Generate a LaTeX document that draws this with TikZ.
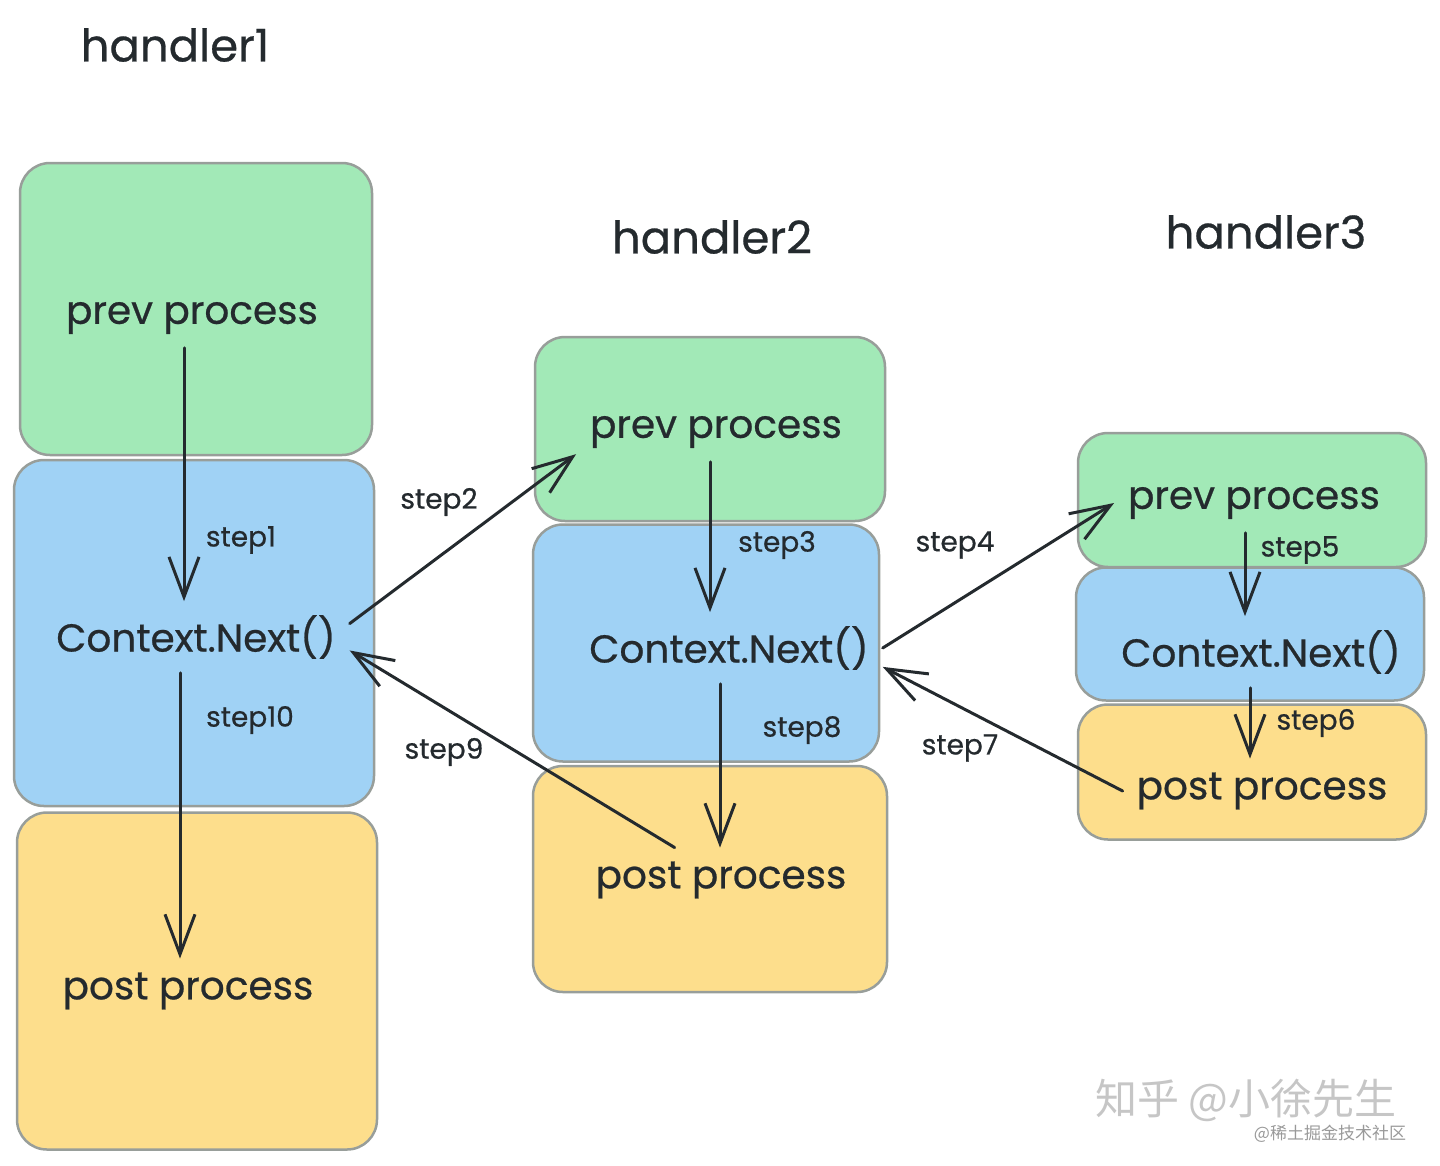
\documentclass[tikz,border=0pt]{standalone}
\usepackage{fontspec}
\setmainfont{Poppins}[FakeBold=0.6]
\newfontfamily\cjkfont{Noto Sans CJK SC}
\usetikzlibrary{arrows.meta}
\definecolor{prevgreen}{RGB}{162,233,183}
\definecolor{nextblue}{RGB}{160,210,245}
\definecolor{postyellow}{RGB}{253,222,140}
\definecolor{edgegray}{RGB}{152,158,154}
\definecolor{ink}{RGB}{36,42,46}
\tikzset{
  box/.style={draw=edgegray,line width=2.5pt,rounded corners=30pt,inner sep=0pt},
  txt/.style={text=ink,font=\fontsize{39}{43}\selectfont,inner sep=4pt,outer sep=10pt},
  title/.style={text=ink,font=\fontsize{45}{49}\selectfont},
  steptxt/.style={text=ink,font=\fontsize{28}{32}\selectfont},
  arr/.style={draw=ink,line width=3pt,line cap=round,line join=round,
    -{Straight Barb[length=40pt,width=30pt,line width=3pt]}}
}
\begin{document}
\begin{tikzpicture}[x=1pt,y=-1pt]
\useasboundingbox (0,0) rectangle (1440,1165);
%\draw[step=100,gray,very thin] (0,0) grid (1440,1165);

% handler1
\node[title] (t1) at (175,45) {handler1};
\node[box,fill=prevgreen,minimum width=352pt,minimum height=292pt] (b1prev) at (196,309) {};
\node[box,fill=nextblue,minimum width=360pt,minimum height=346pt] (b1ctx) at (194,633) {};
\node[box,fill=postyellow,minimum width=360pt,minimum height=337pt] (b1post) at (197,981) {};
\node[txt] (h1prev) at (192,318) {prev process};
\node[txt] (h1ctx) at (196,637) {Context.Next()};
\node[txt] (h1post) at (188,991) {post process};

% handler2
\node[title] (t2) at (712,237) {handler2};
\node[box,fill=prevgreen,minimum width=350pt,minimum height=184pt] (b2prev) at (710,429) {};
\node[box,fill=nextblue,minimum width=346pt,minimum height=237pt] (b2ctx) at (706,643) {};
\node[box,fill=postyellow,minimum width=354pt,minimum height=226pt] (b2post) at (710,879) {};
\node[txt] (h2prev) at (716,432) {prev process};
\node[txt] (h2ctx) at (729,648) {Context.Next()};
\node[txt] (h2post) at (721,880) {post process};

% handler3
\node[title] (t3) at (1266,232) {handler3};
\node[box,fill=prevgreen,minimum width=348pt,minimum height=134pt] (b3prev) at (1252,500) {};
\node[box,fill=nextblue,minimum width=348pt,minimum height=133pt] (b3ctx) at (1250,634) {};
\node[box,fill=postyellow,minimum width=348pt,minimum height=135pt] (b3post) at (1252,772) {};
\node[txt] (h3prev) at (1254,503) {prev process};
\node[txt] (h3ctx) at (1261,652) {Context.Next()};
\node[txt] (h3post) at (1262,791) {post process};

% steps
\draw[arr] ([xshift=-8pt]h1prev.south) -- ([xshift=-8pt]h1prev.south |- h1ctx.north);
\draw[arr] ([xshift=-16pt]h1ctx.south) -- ([xshift=-16pt]h1ctx.south |- h1post.north);
\draw[arr] (h1ctx.5) -- (h2prev.189);
\draw[arr] ([xshift=-6pt]h2prev.south) -- ([xshift=-6pt]h2prev.south |- h2ctx.north);
\draw[arr] (h2ctx.east) -- (h3prev.west);
\draw[arr] ([xshift=-9pt]h3prev.south) -- ([xshift=-9pt]h3prev.south |- h3ctx.north);
\draw[arr] ([xshift=-11pt]h3ctx.south) -- ([xshift=-11pt]h3ctx.south |- h3post.north);
\draw[arr] (h3post.west) -- (h2ctx.-7);
\draw[arr] ([xshift=-9pt]h2ctx.south) -- ([xshift=-9pt]h2ctx.south |- h2post.north);
\draw[arr] (h2post.145) -- (h1ctx.-5);

\node[steptxt] (s1) at (241,540) {step1};
\node[steptxt] (s2) at (439,502) {step2};
\node[steptxt] (s3) at (777,545) {step3};
\node[steptxt] (s4) at (955,545) {step4};
\node[steptxt] (s5) at (1300,550) {step5};
\node[steptxt] (s6) at (1316,723) {step6};
\node[steptxt] (s7) at (960,748) {step7};
\node[steptxt] (s8) at (802,730) {step8};
\node[steptxt] (s9) at (444,752) {step9};
\node[steptxt] (s10) at (250,720) {step10};

% watermark
\node[text=gray!45,font=\cjkfont\fontsize{42}{44}\selectfont] (wm1) at (1246,1100) {知乎 @小徐先生};
\node[text=gray!80,font=\cjkfont\fontsize{17}{19}\selectfont] (wm2) at (1330,1134) {@稀土掘金技术社区};
\end{tikzpicture}
\end{document}
